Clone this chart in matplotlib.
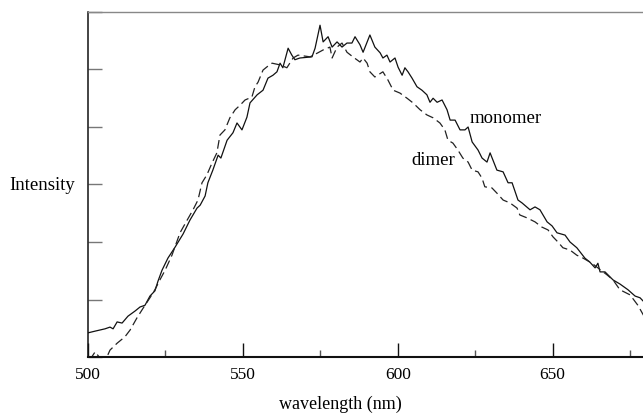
import matplotlib
matplotlib.use("Agg")
import matplotlib.pyplot as plt
from matplotlib.ticker import MultipleLocator, NullFormatter

# ---- data ----
mono_wl = [500.0, 502.3, 503.9, 505.5, 507.1, 508.1, 509.4, 511.0, 512.9, 515.2,
           516.8, 518.4, 520.0, 521.6, 522.6, 523.9, 525.8, 528.1, 530.7, 532.9,
           535.2, 536.2, 537.8, 538.7, 540.3, 542.0, 542.9, 544.9, 546.8, 548.1,
           549.7, 551.3, 552.3, 554.6, 556.5, 558.1, 559.7, 561.0, 562.0, 562.9,
           564.6, 565.8, 566.8, 568.4, 572.3, 573.3, 574.9, 575.9, 577.5, 578.8,
           580.4, 582.0, 583.6, 585.2, 586.2, 587.8, 588.8, 591.0, 592.6, 594.3,
           595.2, 596.5, 597.5, 599.1, 600.1, 601.4, 602.3, 603.3, 604.6, 606.2,
           607.8, 609.4, 610.4, 611.4, 612.7, 614.3, 615.9, 616.9, 618.5, 620.1,
           621.7, 622.7, 624.0, 625.9, 627.2, 628.8, 629.8, 632.0, 634.0, 635.6,
           636.9, 638.8, 640.1, 642.7, 644.3, 645.9, 648.2, 649.8, 651.4, 654.0,
           655.6, 657.8, 660.4, 662.0, 663.7, 664.6, 665.3, 666.9, 669.5, 671.7,
           674.3, 676.6, 678.2, 679.8]
mono_int = [0.42, 0.45, 0.47, 0.49, 0.52, 0.49, 0.61, 0.59, 0.71, 0.80,
            0.87, 0.90, 1.06, 1.15, 1.32, 1.51, 1.72, 1.91, 2.14, 2.38,
            2.59, 2.64, 2.80, 3.03, 3.25, 3.51, 3.46, 3.77, 3.90, 4.07,
            3.95, 4.17, 4.42, 4.56, 4.64, 4.85, 4.90, 4.96, 5.11, 5.03,
            5.37, 5.25, 5.17, 5.20, 5.22, 5.37, 5.77, 5.48, 5.57, 5.39,
            5.48, 5.39, 5.46, 5.46, 5.57, 5.43, 5.30, 5.60, 5.39, 5.29,
            5.20, 5.25, 5.13, 5.20, 5.04, 4.90, 5.03, 4.96, 4.85, 4.70,
            4.64, 4.56, 4.43, 4.50, 4.43, 4.47, 4.30, 4.12, 4.12, 3.95,
            3.95, 4.00, 3.74, 3.60, 3.46, 3.39, 3.55, 3.25, 3.22, 3.03,
            3.03, 2.73, 2.68, 2.56, 2.61, 2.56, 2.35, 2.28, 2.16, 2.12,
            2.00, 1.90, 1.72, 1.65, 1.55, 1.63, 1.48, 1.48, 1.34, 1.27,
            1.17, 1.06, 1.03, 0.94]

dimer_wl = [500.6, 502.3, 503.6, 506.1, 507.1, 509.4, 511.9, 513.6, 515.8, 517.8,
            520.0, 521.6, 523.2, 524.9, 527.1, 529.7, 532.0, 533.9, 535.5, 536.8,
            538.4, 540.0, 541.6, 542.6, 544.2, 545.8, 547.5, 549.1, 550.7, 552.9,
            553.9, 554.9, 556.5, 558.1, 559.4, 562.0, 564.2, 566.2, 567.8, 571.7,
            574.2, 575.9, 578.1, 578.8, 580.4, 582.0, 583.6, 585.5, 587.8, 588.8,
            590.1, 591.0, 592.6, 595.2, 596.8, 598.5, 600.7, 603.0, 604.9, 607.2,
            609.4, 611.4, 613.6, 615.2, 616.2, 617.8, 619.4, 621.0, 622.7, 624.0,
            625.9, 627.2, 628.1, 630.4, 632.0, 634.0, 636.2, 638.5, 639.4, 641.7,
            644.3, 646.5, 648.5, 650.1, 651.7, 653.3, 655.6, 657.8, 659.8, 662.7,
            664.6, 667.5, 669.5, 671.7, 675.0, 677.5, 679.8]
dimer_int = [-0.05, 0.09, 0.00, 0.00, 0.12, 0.24, 0.35, 0.47, 0.68, 0.85,
             1.03, 1.17, 1.34, 1.51, 1.77, 2.16, 2.38, 2.56, 2.73, 3.03,
             3.17, 3.37, 3.55, 3.86, 3.95, 4.16, 4.30, 4.38, 4.47, 4.52,
             4.70, 4.78, 4.99, 5.06, 5.11, 5.08, 5.03, 5.20, 5.25, 5.22,
             5.29, 5.34, 5.39, 5.20, 5.39, 5.46, 5.30, 5.22, 5.13, 5.20,
             5.11, 4.96, 4.87, 4.96, 4.82, 4.64, 4.59, 4.50, 4.42, 4.30,
             4.21, 4.16, 4.07, 3.95, 3.77, 3.72, 3.60, 3.46, 3.39, 3.25,
             3.22, 3.11, 2.96, 2.94, 2.85, 2.73, 2.68, 2.59, 2.47, 2.42,
             2.35, 2.26, 2.21, 2.09, 2.00, 1.90, 1.86, 1.77, 1.72, 1.63,
             1.55, 1.43, 1.34, 1.17, 1.08, 0.90, 0.68]

x_ticks = [500, 550, 600, 650]
x_tick_labels = ["500", "550", "600", "650"]

plt.rcParams['font.family'] = ['Liberation Serif', 'DejaVu Serif']

fig = plt.figure(figsize=(6.43, 4.15), dpi=100)
ax = fig.add_axes([88/643, 58/415, 557.6/643, 345/415])

ax.plot(mono_wl, mono_int, color='#111111', lw=0.9)
ax.plot(dimer_wl, dimer_int, color='#222222', lw=0.9, linestyle=(0, (7, 3.5)))

ax.set_xlim(500, 680)
ax.set_ylim(0, 6)

ax.set_xticks(x_ticks)
ax.set_xticklabels(x_tick_labels)
ax.xaxis.set_minor_locator(MultipleLocator(25))
ax.yaxis.set_major_locator(MultipleLocator(1))
ax.yaxis.set_major_formatter(NullFormatter())

ax.tick_params(axis='x', which='major', direction='in', length=10, width=1.0,
               color='#111111', labelsize=12.5, pad=7)
ax.tick_params(axis='x', which='minor', direction='in', length=5, width=1.0,
               color='#555555')
ax.tick_params(axis='y', which='major', direction='in', length=10, width=1.0,
               color='#777777', left=True, right=False)
ax.tick_params(axis='both', which='both', top=False, right=False)

ax.spines['left'].set_linewidth(1.1)
ax.spines['left'].set_color('#111111')
ax.spines['bottom'].set_linewidth(1.5)
ax.spines['bottom'].set_color('#111111')
ax.spines['top'].set_linewidth(1.0)
ax.spines['top'].set_color('#888888')
ax.spines['right'].set_visible(False)

ax.text(623.3, 4.14, "monomer", fontsize=13.5, ha='left', va='center')
ax.text(604.3, 3.41, "dimer", fontsize=13.5, ha='left', va='center')

fig.text(9/643, 1 - 185/415, "Intensity", fontsize=13.5, ha='left', va='center')
fig.text(340/643, 1 - 404/415, "wavelength (nm)", fontsize=13, ha='center', va='center')

fig.savefig("out.png", dpi=100)
